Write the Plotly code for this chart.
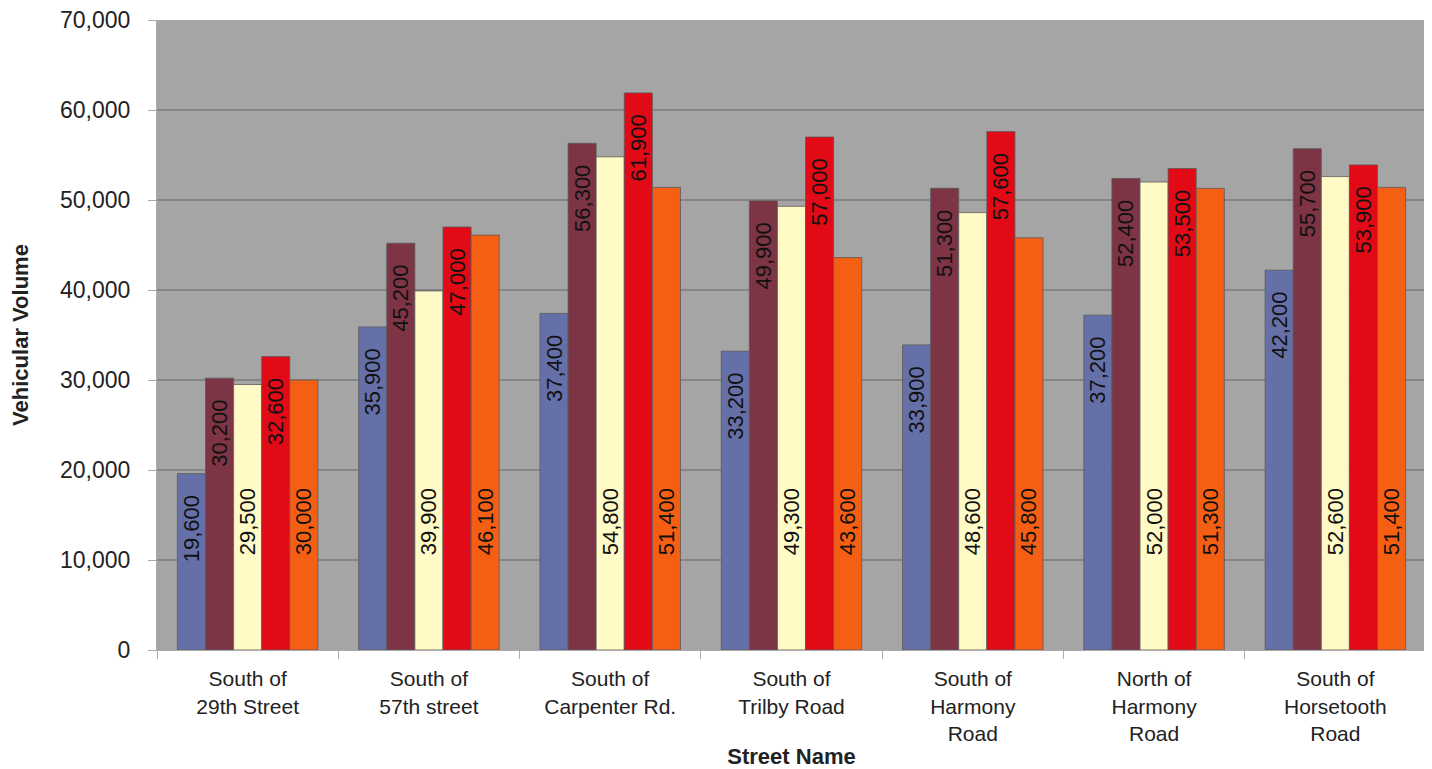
import plotly.graph_objects as go

streets = [
    "South of<br>29th Street",
    "South of<br>57th street",
    "South of<br>Carpenter Rd.",
    "South of<br>Trilby Road",
    "South of<br>Harmony<br>Road",
    "North of<br>Harmony<br>Road",
    "South of<br>Horsetooth<br>Road",
]

series_1 = [19600, 35900, 37400, 33200, 33900, 37200, 42200]
series_2 = [30200, 45200, 56300, 49900, 51300, 52400, 55700]
series_3 = [29500, 39900, 54800, 49300, 48600, 52000, 52600]
series_4 = [32600, 47000, 61900, 57000, 57600, 53500, 53900]
series_5 = [30000, 46100, 51400, 43600, 45800, 51300, 51400]

colors = ["#6670A8", "#7D3444", "#FFFAC6", "#E20A17", "#F55F13"]
anchors = ["end", "end", "start", "end", "start"]

NB = "\u00a0"

def label(v, anchor):
    # Excel leaves a gap between the label and the bar end / base
    if anchor == "end":
        return f"{v:,}" + NB * 3
    return NB * 15 + f"{v:,}"

fig = go.Figure()
for vals, col, anc in zip([series_1, series_2, series_3, series_4, series_5], colors, anchors):
    fig.add_trace(go.Bar(
        x=streets,
        y=vals,
        marker=dict(color=col, line=dict(color="#5a5a5a", width=0.8)),
        text=[label(v, anc) for v in vals],
        textposition="inside",
        insidetextanchor=anc,
        textangle=-90,
        textfont=dict(family="Liberation Sans, Arial", size=22, color="#111111"),
        constraintext="none",
        hoverinfo="x+y",
        showlegend=False,
    ))

# page body has an 8px margin, so the figure is drawn 8px in from the top-left
fig.update_layout(
    width=1424,
    height=761,
    barmode="group",
    bargap=0.225,
    bargroupgap=0,
    plot_bgcolor="#A6A5A6",
    paper_bgcolor="white",
    margin=dict(l=149, r=6, t=12, b=119, autoexpand=False),
    font=dict(family="Liberation Sans, Arial", size=22, color="#222222"),
    shapes=[dict(type="line", xref="paper", yref="paper", x0=1, x1=1, y0=-0.2, y1=1.04,
                 line=dict(color="#F5F08A", width=1.5))],
)
fig.update_yaxes(
    range=[0, 70000],
    dtick=10000,
    tickformat=",",
    showgrid=True,
    gridcolor="#858585",
    gridwidth=1.5,
    ticks="outside",
    ticklen=8,
    tickcolor="#aaaaaa",
    ticklabelstandoff=13,
    ticklabeloverflow="allow",
    showline=True,
    linecolor="#aaaaaa",
    zeroline=False,
    automargin=False,
    tickfont=dict(size=23),
    title=dict(text="<b>Vehicular Volume</b>", font=dict(size=22), standoff=30),
)
fig.update_xaxes(
    showline=True,
    linecolor="#aaaaaa",
    ticks="outside",
    tickson="boundaries",
    ticklen=8,
    tickcolor="#aaaaaa",
    ticklabelstandoff=10,
    automargin=False,
    tickfont=dict(size=21),
    title=dict(text="<b>Street Name</b>", font=dict(size=22), standoff=5),
)

fig.write_html("out.html")
